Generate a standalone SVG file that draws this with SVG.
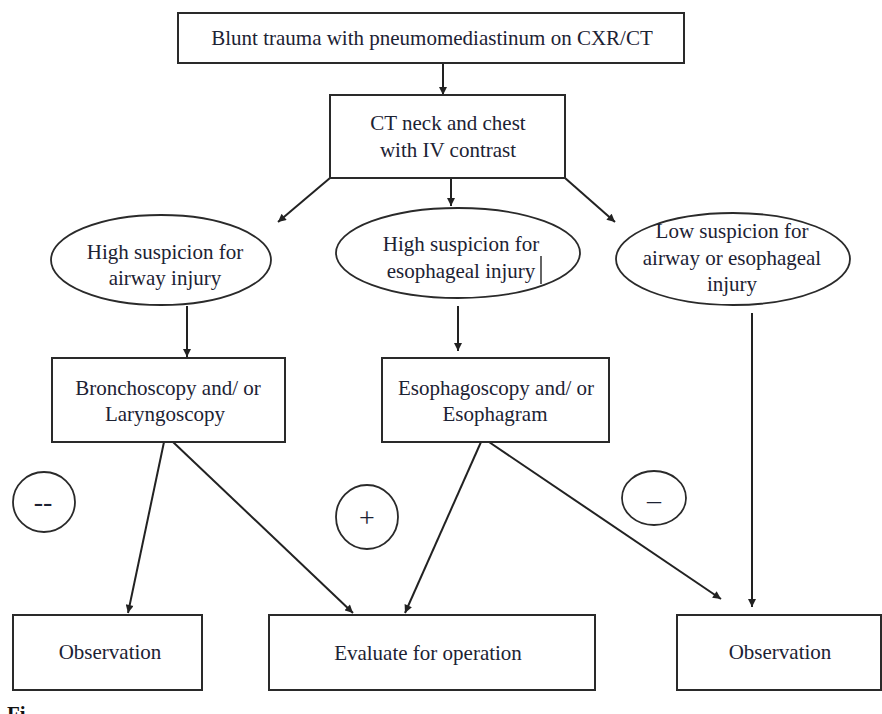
<svg xmlns="http://www.w3.org/2000/svg" width="882" height="714" viewBox="0 0 882 714">
<defs>
<marker id="ah" viewBox="0 0 10 10" refX="10" refY="5" markerWidth="9" markerHeight="8" markerUnits="userSpaceOnUse" orient="auto">
<path d="M0,0 L10,5 L0,10 z" fill="#222"/>
</marker>
<style>
.box{fill:#fff;stroke:#2a2a2a;stroke-width:2}
.ell{fill:#fff;stroke:#2a2a2a;stroke-width:1.8}
.sign{fill:none;stroke:#2a2a2a;stroke-width:1.8}
.t{font-family:"Liberation Serif","Times New Roman",serif;font-size:21px;fill:#1c2233;text-anchor:middle}
.s{font-family:"Liberation Serif","Times New Roman",serif;font-size:28px;fill:#1c2233;text-anchor:middle}
.c{fill:none;stroke:#222;stroke-width:2;marker-end:url(#ah)}
</style>
</defs>
<rect width="882" height="714" fill="#fff"/>
<g id="connectors">
<line class="c" x1="443" y1="63" x2="443" y2="95"/>
<line class="c" x1="330" y1="178" x2="278" y2="222"/>
<line class="c" x1="451" y1="178" x2="451" y2="206"/>
<line class="c" x1="565" y1="178" x2="615" y2="222"/>
<line class="c" x1="187" y1="306" x2="187" y2="357"/>
<line class="c" x1="458" y1="306" x2="458" y2="351"/>
<line class="c" x1="752" y1="313" x2="752" y2="607"/>
<line class="c" x1="164" y1="442" x2="128" y2="613"/>
<line class="c" x1="173" y1="442" x2="353" y2="613"/>
<line class="c" x1="481" y1="442" x2="405" y2="613"/>
<line class="c" x1="489" y1="442" x2="721" y2="599"/>
</g>
<g id="n-top">
<rect class="box" x="178" y="13" width="506" height="50"/>
<text class="t" x="432" y="45">Blunt trauma with pneumomediastinum on CXR/CT</text>
</g>
<g id="n-ct">
<rect class="box" x="330" y="95" width="235" height="83"/>
<text class="t" x="448" y="130">CT neck and chest</text>
<text class="t" x="448" y="157">with IV contrast</text>
</g>
<g id="n-airway">
<ellipse class="ell" cx="161" cy="260" rx="110" ry="45"/>
<text class="t" x="165" y="259">High suspicion for</text>
<text class="t" x="165" y="285">airway injury</text>
</g>
<g id="n-esoph">
<ellipse class="ell" cx="458" cy="253" rx="122" ry="45"/>
<text class="t" x="461" y="251">High suspicion for</text>
<text class="t" x="461" y="278">esophageal injury</text>
<line x1="541" y1="256" x2="541" y2="284" stroke="#111" stroke-width="1.3"/>
</g>
<g id="n-low">
<ellipse class="ell" cx="733" cy="259" rx="117" ry="46"/>
<text class="t" x="732" y="238">Low suspicion for</text>
<text class="t" x="732" y="265">airway or esophageal</text>
<text class="t" x="732" y="291">injury</text>
</g>
<g id="n-bronch">
<rect class="box" x="52" y="358" width="233" height="84"/>
<text class="t" x="168" y="395">Bronchoscopy and/ or</text>
<text class="t" x="165" y="421">Laryngoscopy</text>
</g>
<g id="n-esophago">
<rect class="box" x="382" y="358" width="227" height="84"/>
<text class="t" x="496" y="395">Esophagoscopy and/ or</text>
<text class="t" x="495" y="421">Esophagram</text>
</g>
<g id="s-neg1">
<ellipse class="sign" cx="44" cy="502" rx="31" ry="30"/>
<text class="s" x="43" y="511">--</text>
</g>
<g id="s-pos">
<ellipse class="sign" cx="367" cy="517" rx="31" ry="32"/>
<text class="s" x="367" y="527">+</text>
</g>
<g id="s-neg2">
<ellipse class="sign" cx="654" cy="498" rx="32" ry="27"/>
<text class="s" x="654" y="509">–</text>
</g>
<g id="n-obs1">
<rect class="box" x="13" y="615" width="189" height="75"/>
<text class="t" x="110" y="659">Observation</text>
</g>
<g id="n-eval">
<rect class="box" x="269" y="615" width="326" height="75"/>
<text class="t" x="428" y="660">Evaluate for operation</text>
</g>
<g id="n-obs2">
<rect class="box" x="677" y="615" width="204" height="75"/>
<text class="t" x="780" y="659">Observation</text>
</g>
<text x="7" y="721" style="font-family:'Liberation Serif','Times New Roman',serif;font-size:21px;font-weight:bold;fill:#111">Fi</text>
</svg>
